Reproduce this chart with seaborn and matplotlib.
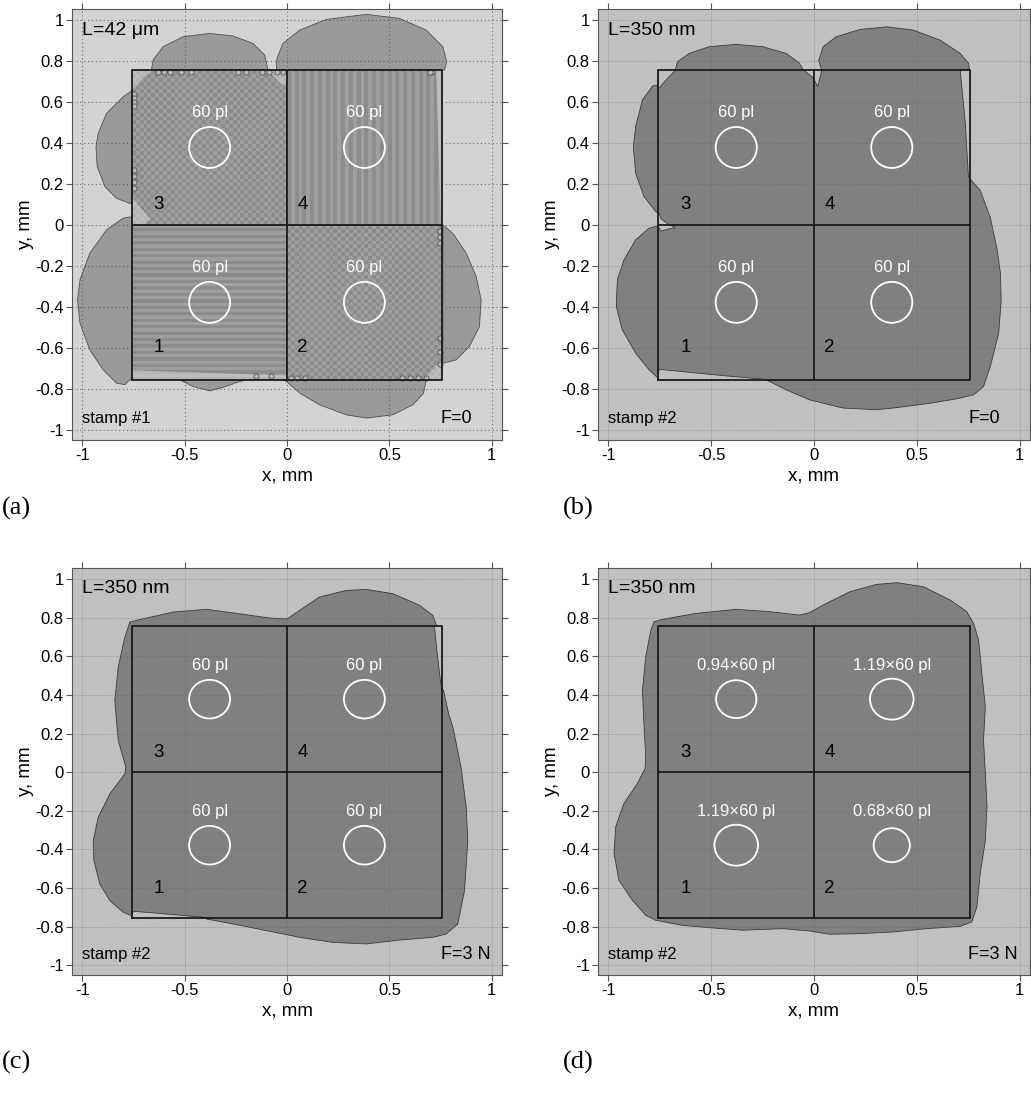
import numpy as np
import matplotlib
matplotlib.use("Agg")
import matplotlib.pyplot as plt
from matplotlib.colors import ListedColormap
from matplotlib.patches import Ellipse
import seaborn as sns

sns.set_style("ticks")
plt.rcParams['font.family'] = ['Liberation Sans', 'DejaVu Sans']
plt.rcParams['text.color'] = 'black'
plt.rcParams['axes.labelcolor'] = 'black'

# stamp geometry: 2x2 cells, drop centres, labels
stamp_half = 0.756
cell_ids = ["1", "2", "3", "4"]
cell_id_pos = [(-0.625, -0.6), (0.075, -0.6), (-0.625, 0.1), (0.075, 0.1)]
drop_centres = [(-0.378, -0.378), (0.378, -0.378), (-0.378, 0.378), (0.378, 0.378)]
drop_radius = 0.1
volume_labels_even = ["60 pl", "60 pl", "60 pl", "60 pl"]
volume_factors_d = [1.19, 0.68, 0.94, 1.19]
volume_labels_d = ["1.19\u00d760 pl", "0.68\u00d760 pl", "0.94\u00d760 pl", "1.19\u00d760 pl"]

x_ticks = [-1, -0.5, 0, 0.5, 1]
x_tick_labels = ["-1", "-0.5", "0", "0.5", "1"]
y_ticks = [-1, -0.8, -0.6, -0.4, -0.2, 0, 0.2, 0.4, 0.6, 0.8, 1]
y_tick_labels = ["-1", "-0.8", "-0.6", "-0.4", "-0.2", "0", "0.2", "0.4", "0.6", "0.8", "1"]

panel_tags = ["(a)", "(b)", "(c)", "(d)"]
length_labels = ["L=42 \u03bcm", "L=350 nm", "L=350 nm", "L=350 nm"]
stamp_labels = ["stamp #1", "stamp #2", "stamp #2", "stamp #2"]
force_labels = ["F=0", "F=0", "F=3 N", "F=3 N"]

# panel (a): separate liquid lobes outside the stamp (x, y)
a_lobe_top_left = np.array([
    (-0.662, 0.756), (-0.654, 0.805), (-0.605, 0.87), (-0.507, 0.919), (-0.377, 0.935),
    (-0.263, 0.922), (-0.166, 0.886), (-0.109, 0.829), (-0.093, 0.756)])
a_lobe_top_right = np.array([
    (-0.052, 0.756), (-0.049, 0.813), (-0.02, 0.886), (0.062, 0.951), (0.192, 1.003),
    (0.387, 1.028), (0.55, 1.008), (0.68, 0.951), (0.761, 0.87), (0.78, 0.797), (0.769, 0.756)])
a_lobe_left = np.array([
    (-0.751, 0.659), (-0.8, 0.626), (-0.881, 0.545), (-0.922, 0.447), (-0.933, 0.382),
    (-0.927, 0.285), (-0.889, 0.187), (-0.833, 0.13), (-0.759, 0.102)])
a_lobe_left_low = np.array([
    (-0.751, 0.041), (-0.8, 0.033), (-0.881, -0.024), (-0.963, -0.138), (-1.011, -0.268),
    (-1.023, -0.366), (-1.011, -0.48), (-0.963, -0.61), (-0.898, -0.707), (-0.833, -0.772),
    (-0.792, -0.78), (-0.759, -0.748), (-0.751, -0.691)])
a_lobe_bottom_left = np.array([
    (-0.564, -0.732), (-0.524, -0.756), (-0.459, -0.789), (-0.377, -0.81), (-0.312, -0.793),
    (-0.231, -0.764), (-0.15, -0.748), (-0.125, -0.737)])
a_lobe_bottom_right = np.array([
    (-0.068, -0.732), (-0.003, -0.764), (0.062, -0.821), (0.159, -0.878), (0.289, -0.927),
    (0.387, -0.943), (0.517, -0.927), (0.615, -0.878), (0.667, -0.821), (0.68, -0.756)])
a_lobe_right = np.array([
    (0.761, 0.0), (0.81, -0.041), (0.875, -0.138), (0.924, -0.252), (0.948, -0.366),
    (0.94, -0.496), (0.891, -0.593), (0.826, -0.659), (0.761, -0.675)])
# dry corners inside the stamp cells in (a)
a_dry_spots = [
    np.array([(-0.756, 0.756), (-0.654, 0.756), (-0.7, 0.72), (-0.735, 0.68), (-0.756, 0.659)]),
    np.array([(-0.098, 0.756), (0.0, 0.756), (0.0, 0.7), (-0.024, 0.683), (-0.06, 0.72)]),
    np.array([(-0.756, 0.137), (-0.72, 0.09), (-0.668, 0.03), (-0.7, 0.0), (-0.756, 0.0)]),
    np.array([(0.663, -0.756), (0.756, -0.756), (0.756, -0.66), (0.72, -0.7)]),
    np.array([(-0.756, -0.71), (-0.4, -0.722), (0.0, -0.735), (0.0, -0.756), (-0.756, -0.756)]),
    np.array([(0.728, 0.756), (0.756, 0.756), (0.756, 0.0), (0.75, 0.0)])]
# small trapped bubbles along the cell edges in (a)
a_bubble_x = [-0.63, -0.6, -0.57, -0.52, -0.47, -0.24, -0.2, -0.12, -0.09, -0.05, -0.02,
              -0.745, -0.745, -0.745, -0.745, -0.745, -0.745, -0.745, -0.745,
              0.745, 0.745, 0.745, 0.745, 0.745, 0.745,
              0.02, 0.05, 0.09, 0.56, 0.6, 0.64, 0.68, 0.71, 0.7, -0.15, -0.08]
a_bubble_y = [0.748, 0.748, 0.748, 0.748, 0.748, 0.748, 0.748, 0.748, 0.748, 0.748, 0.748,
              0.64, 0.62, 0.6, 0.58, 0.27, 0.24, 0.21, 0.18,
              -0.03, -0.06, -0.09, -0.55, -0.62, -0.68,
              -0.748, -0.748, -0.748, -0.748, -0.748, -0.748, -0.748, 0.748, 0.748, -0.74, -0.74]

# panels (b)-(d): one wetted outline each (x, y)
b_outline = np.array([
    (-0.758, 0.662), (-0.72, 0.707), (-0.676, 0.753), (-0.663, 0.797), (-0.607, 0.837),
    (-0.509, 0.87), (-0.379, 0.881), (-0.249, 0.87), (-0.135, 0.837), (-0.07, 0.789),
    (-0.054, 0.759), (-0.006, 0.72), (0.003, 0.705), (0.018, 0.675), (0.028, 0.715),
    (0.038, 0.754), (0.023, 0.802), (0.044, 0.87), (0.109, 0.919), (0.223, 0.954),
    (0.353, 0.967), (0.483, 0.951), (0.613, 0.902), (0.711, 0.837), (0.751, 0.789),
    (0.756, 0.759), (0.711, 0.756), (0.735, 0.5), (0.751, 0.233), (0.808, 0.168),
    (0.857, 0.037), (0.89, -0.12), (0.906, -0.236), (0.91, -0.366), (0.898, -0.528),
    (0.857, -0.691), (0.824, -0.789), (0.776, -0.829), (0.694, -0.849), (0.548, -0.873),
    (0.385, -0.894), (0.304, -0.902), (0.141, -0.894), (-0.021, -0.854), (-0.135, -0.805),
    (-0.216, -0.764), (-0.249, -0.753), (-0.46, -0.734), (-0.753, -0.705), (-0.758, -0.748),
    (-0.802, -0.707), (-0.867, -0.626), (-0.932, -0.512), (-0.961, -0.398), (-0.956, -0.268),
    (-0.924, -0.171), (-0.867, -0.073), (-0.802, -0.016), (-0.758, -0.005), (-0.744, -0.03),
    (-0.704, -0.019), (-0.675, -0.014), (-0.712, 0.006), (-0.744, 0.03), (-0.753, 0.057),
    (-0.769, 0.065), (-0.826, 0.138), (-0.867, 0.252), (-0.878, 0.382), (-0.867, 0.48),
    (-0.834, 0.61), (-0.785, 0.678), (-0.758, 0.683)])
c_outline = np.array([
    (-0.767, 0.777), (-0.735, 0.786), (-0.556, 0.829), (-0.393, 0.843), (-0.231, 0.82),
    (-0.085, 0.798), (0.0, 0.793), (0.062, 0.838), (0.159, 0.907), (0.289, 0.941),
    (0.387, 0.946), (0.517, 0.924), (0.647, 0.864), (0.712, 0.812), (0.73, 0.76),
    (0.72, 0.757), (0.735, 0.6), (0.752, 0.45), (0.765, 0.42), (0.79, 0.3), (0.81, 0.233),
    (0.85, 0.026), (0.875, -0.181), (0.883, -0.354), (0.867, -0.613), (0.834, -0.786),
    (0.777, -0.838), (0.712, -0.855), (0.55, -0.869), (0.387, -0.889), (0.224, -0.881),
    (0.062, -0.855), (-0.1, -0.82), (-0.263, -0.786), (-0.393, -0.76), (-0.4, -0.752),
    (-0.58, -0.735), (-0.75, -0.72), (-0.759, -0.743), (-0.8, -0.725), (-0.865, -0.665),
    (-0.914, -0.579), (-0.943, -0.458), (-0.946, -0.354), (-0.922, -0.233), (-0.865, -0.112),
    (-0.792, -0.009), (-0.787, 0.026), (-0.824, 0.164), (-0.841, 0.371), (-0.824, 0.544),
    (-0.792, 0.699)])
d_outline = np.array([
    (-0.777, 0.779), (-0.737, 0.791), (-0.574, 0.822), (-0.379, 0.843), (-0.216, 0.831),
    (-0.07, 0.813), (-0.021, 0.826), (0.044, 0.865), (0.174, 0.934), (0.304, 0.972),
    (0.402, 0.981), (0.532, 0.96), (0.662, 0.891), (0.743, 0.831), (0.776, 0.77),
    (0.8, 0.684), (0.816, 0.511), (0.833, 0.339), (0.824, 0.166), (0.833, -0.007),
    (0.841, -0.18), (0.833, -0.352), (0.808, -0.525), (0.792, -0.698), (0.767, -0.775),
    (0.711, -0.798), (0.548, -0.81), (0.385, -0.827), (0.223, -0.836), (0.076, -0.839),
    (-0.021, -0.822), (-0.151, -0.81), (-0.346, -0.818), (-0.509, -0.805), (-0.639, -0.793),
    (-0.769, -0.767), (-0.818, -0.741), (-0.883, -0.663), (-0.948, -0.56), (-0.972, -0.421),
    (-0.964, -0.283), (-0.924, -0.162), (-0.859, -0.059), (-0.821, 0.019), (-0.818, 0.079),
    (-0.826, 0.235), (-0.834, 0.425), (-0.818, 0.598), (-0.793, 0.736)])

# figure layout in pixels of the 1031x1095 image
W, H = 1031, 1095
fig = plt.figure(figsize=(W / 100, H / 100), dpi=100)
ax_a = fig.add_axes([72 / W, 1 - 440 / H, 430 / W, 431 / H])
ax_b = fig.add_axes([598 / W, 1 - 440 / H, 432 / W, 431 / H])
ax_c = fig.add_axes([72 / W, 1 - 975 / H, 430 / W, 407 / H])
ax_d = fig.add_axes([598 / W, 1 - 975 / H, 432 / W, 407 / H])


def draw_outline(ax, pts, face, edge="#404040", lw=0.6, z=2):
    """fill a closed outline and trace its border"""
    closed = np.vstack([pts, pts[:1]])
    ax.fill(closed[:, 0], closed[:, 1], color=face, lw=0, zorder=z)
    sns.lineplot(x=closed[:, 0], y=closed[:, 1], sort=False, estimator=None,
                 color=edge, lw=lw, ax=ax, legend=False, zorder=z + 0.1)


def draw_stamp(ax):
    h = stamp_half
    for xs, ys in [([-h, h, h, -h, -h], [-h, -h, h, h, -h]), ([0, 0], [-h, h]), ([-h, h], [0, 0])]:
        ax.plot(xs, ys, color="#1a1a1a", lw=1.3, zorder=6)


def draw_drops(ax, labels, factors=None):
    for i, (cx, cy) in enumerate(drop_centres):
        r = drop_radius * (factors[i] ** (1 / 3) if factors else 1.0)
        ax.add_patch(Ellipse((cx, cy), 2 * r, 2 * r, fill=False, ec="white", lw=1.3, zorder=7))
        ax.text(cx, cy + 0.172, labels[i], color="white", fontsize=12,
                ha="center", va="center", zorder=7)


def style_axes(ax, i, grid_kw, face):
    ax.set_facecolor(face)
    ax.set_xlim(-1.05, 1.05)
    ax.set_ylim(-1.05, 1.054 if i < 2 else 1.057)
    ax.set_xticks(x_ticks)
    ax.set_xticklabels(x_tick_labels)
    ax.set_yticks(y_ticks)
    ax.set_yticklabels(y_tick_labels)
    ax.tick_params(direction="out", length=4, width=0.8, color="#555555", labelcolor="black",
                   labelsize=12, top=True, right=True, pad=2)
    for s in ax.spines.values():
        s.set_color("#555555")
        s.set_linewidth(0.8)
    ax.grid(True, **grid_kw)
    ax.set_axisbelow(False)
    ax.set_xlabel("x, mm", fontsize=13.5, labelpad=3)
    ax.set_ylabel("y, mm", fontsize=13.5, labelpad=1)
    for k, (nx, ny) in enumerate(cell_id_pos):
        ax.text(nx, ny, cell_ids[k], fontsize=13.5, ha="center", va="center", zorder=7)
    ax.text(-1.0, 0.95, length_labels[i], fontsize=14, ha="left", va="center", zorder=7)
    ax.text(-1.0, -0.945, stamp_labels[i], fontsize=12, ha="left", va="center", zorder=7)
    ax.text(0.75, -0.945, force_labels[i], fontsize=13, ha="left", va="center", zorder=7)


# panel (a): patterned cells
grid_a = dict(color="#555555", linestyle=(0, (1, 2.5)), linewidth=0.8, alpha=0.8)
style_axes(ax_a, 0, grid_a, "#d3d3d3")
for lobe in [a_lobe_top_left, a_lobe_top_right, a_lobe_left, a_lobe_left_low,
             a_lobe_bottom_left, a_lobe_bottom_right, a_lobe_right]:
    draw_outline(ax_a, lobe, "#9a9a9a", edge="#505050", lw=0.6)

h = stamp_half
n_check = 40
checker = np.indices((n_check, n_check)).sum(axis=0) % 2
stripes_h = (np.arange(48) % 2).reshape(-1, 1)
stripes_v = (np.arange(40) % 2).reshape(1, -1)
tex_cmap = ListedColormap(["#8c8c8c", "#9e9e9e"])
tex_cells = [(stripes_h, [-h, 0, -h, 0]), (checker, [0, h, -h, 0]),
             (checker, [-h, 0, 0, h]), (stripes_v, [0, h, 0, h])]
for tex, ext in tex_cells:
    ax_a.imshow(tex, extent=ext, cmap=tex_cmap, interpolation="nearest",
                aspect="auto", origin="lower", zorder=3)
for spot in a_dry_spots:
    ax_a.fill(spot[:, 0], spot[:, 1], color="#d8d8d8", alpha=0.55, lw=0, zorder=4)
sns.scatterplot(x=a_bubble_x, y=a_bubble_y, s=14, marker="o", color="#b8b8b8",
                edgecolor="#555555", linewidth=0.6, ax=ax_a, legend=False, zorder=5)
draw_stamp(ax_a)
draw_drops(ax_a, volume_labels_even)

# panels (b)-(d)
grid_b = dict(color="#606060", linestyle=(0, (2, 1)), linewidth=0.6, alpha=0.3)
for i, (ax, outline) in enumerate(zip([ax_b, ax_c, ax_d], [b_outline, c_outline, d_outline]), start=1):
    style_axes(ax, i, grid_b, "#c0c0c0")
    draw_outline(ax, outline, "#808080", edge="#3a3a3a", lw=0.6)
    draw_stamp(ax)
    if i == 3:
        draw_drops(ax, volume_labels_d, volume_factors_d)
    else:
        draw_drops(ax, volume_labels_even)

# panel tags
tag_pos = [(2 / W, 1 - 508 / H), (563 / W, 1 - 508 / H), (2 / W, 1 - 1062 / H), (563 / W, 1 - 1062 / H)]
for tag, (tx, ty) in zip(panel_tags, tag_pos):
    fig.text(tx, ty, tag, fontsize=19, family="Liberation Serif", ha="left", va="center")

fig.savefig("out.png", dpi=100)
